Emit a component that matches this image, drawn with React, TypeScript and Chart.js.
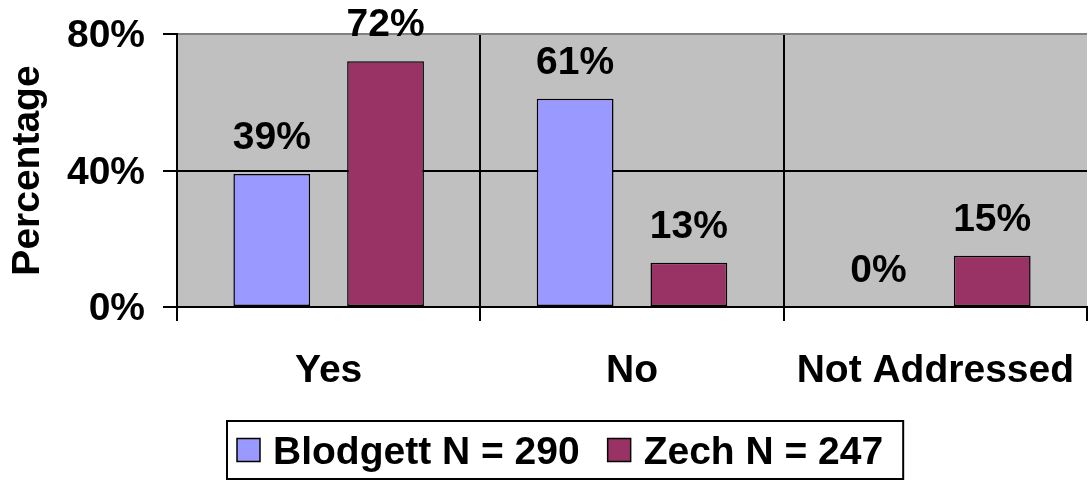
import React, { useEffect, useRef } from "react";
import { Chart, registerables } from "chart.js";

Chart.register(...registerables);

const categories = ["Yes", "No", "Not Addressed"];
const blodgettValues = [39, 61, 0];
const zechValues = [72, 13, 15];
const seriesNames = ["Blodgett N = 290", "Zech N = 247"];
const seriesColors = ["#9999FF", "#993366"];
const yTickValues = [0, 40, 80];
const yAxisTitle = "Percentage";

const FAMILY = "'Liberation Sans', Arial, sans-serif";
const BIG = `bold 39px ${FAMILY}`;
const TICK = `bold 39px ${FAMILY}`;

const W = 1088;
const H = 483;

const customPlugin = {
  id: "customDecor",
  beforeDraw(chart: any) {
    const { ctx, chartArea: a } = chart;
    ctx.save();
    ctx.fillStyle = "#C0C0C0";
    ctx.fillRect(a.left, a.top, a.right - a.left, a.bottom - a.top);
    ctx.restore();
  },
  afterDatasetsDraw(chart: any) {
    const { ctx } = chart;
    ctx.save();
    ctx.font = BIG;
    ctx.fillStyle = "#000";
    ctx.textAlign = "center";
    ctx.textBaseline = "alphabetic";
    chart.data.datasets.forEach((ds: any, di: number) => {
      const meta = chart.getDatasetMeta(di);
      meta.data.forEach((el: any, i: number) => {
        ctx.fillText(`${ds.data[i]}%`, el.x, el.y - 25);
      });
    });
    ctx.restore();
  },
  afterDraw(chart: any) {
    const { ctx, chartArea: a } = chart;
    const ys = chart.scales.y;
    const xs = chart.scales.x;
    ctx.save();
    ctx.fillStyle = "#000";
    ctx.textBaseline = "alphabetic";
    // y tick labels
    ctx.font = TICK;
    ctx.textAlign = "right";
    yTickValues.forEach((v) => {
      ctx.fillText(`${v}%`, a.left - 32, ys.getPixelForValue(v) + 13);
    });
    // x category labels
    ctx.font = BIG;
    ctx.textAlign = "center";
    categories.forEach((c, i) => {
      ctx.fillText(c, xs.getPixelForValue(i), a.bottom + 75);
    });
    // y axis title
    ctx.save();
    ctx.translate(39, (a.top + a.bottom) / 2);
    ctx.rotate(-Math.PI / 2);
    ctx.font = `bold 39px ${FAMILY}`;
    ctx.textAlign = "center";
    ctx.fillText(yAxisTitle, 0, 0);
    ctx.restore();
    // legend
    ctx.font = BIG;
    ctx.textAlign = "left";
    const marker = 23;
    const padL = 10;
    const padR = 20;
    const gapMT = 13;
    const itemGap = 28;
    const widths = seriesNames.map((s) => ctx.measureText(s).width);
    let total = padL + padR;
    widths.forEach((w, i) => {
      total += marker + gapMT + w + (i < widths.length - 1 ? itemGap : 0);
    });
    const cx = 565;
    const boxLeft = Math.round(cx - total / 2);
    const boxTop = 421;
    const boxH = 58;
    ctx.lineWidth = 2;
    ctx.strokeStyle = "#000";
    ctx.strokeRect(boxLeft, boxTop, total, boxH);
    let x = boxLeft + padL;
    const mid = boxTop + boxH / 2;
    seriesNames.forEach((s, i) => {
      ctx.fillStyle = seriesColors[i];
      ctx.fillRect(x, mid - marker / 2, marker, marker);
      ctx.lineWidth = 1.5;
      ctx.strokeRect(x, mid - marker / 2, marker, marker);
      x += marker + gapMT;
      ctx.fillStyle = "#000";
      ctx.fillText(s, x, mid + 14);
      x += widths[i] + itemGap;
    });
    ctx.restore();
  },
};

export default function App() {
  const ref = useRef<HTMLCanvasElement | null>(null);

  useEffect(() => {
    if (!ref.current) return;
    const chart = new Chart(ref.current, {
      type: "bar",
      data: {
        labels: categories,
        datasets: [
          {
            label: seriesNames[0],
            data: blodgettValues,
            backgroundColor: seriesColors[0],
            borderColor: "#000",
            borderWidth: 1.5,
            borderSkipped: false,
          },
          {
            label: seriesNames[1],
            data: zechValues,
            backgroundColor: seriesColors[1],
            borderColor: "#000",
            borderWidth: 1.5,
            borderSkipped: false,
          },
        ],
      },
      options: {
        responsive: false,
        animation: false,
        devicePixelRatio: 1,
        layout: { padding: { top: 34, right: 1, left: 0, bottom: 0 } },
        datasets: {
          bar: { categoryPercentage: 0.75, barPercentage: 0.675 },
        },
        plugins: {
          legend: { display: false },
          tooltip: { enabled: false },
        },
        scales: {
          x: {
            offset: true,
            ticks: { display: false },
            grid: {
              offset: true,
              drawTicks: true,
              tickLength: 14,
              lineWidth: 2,
              tickWidth: 2,
              color: (c: any) => (c.type === "scale" ? "rgba(0,0,0,0)" : "#000"),
              tickColor: "#000",
            },
            border: { display: true, color: "#000", width: 2 },
            afterFit: (s: any) => {
              s.height = 176;
            },
          },
          y: {
            min: 0,
            max: 80,
            ticks: { display: false, stepSize: 40 },
            grid: {
              drawTicks: true,
              tickLength: 14,
              lineWidth: 2,
              tickWidth: 2,
              color: (c: any) => (c.tick && c.tick.value === 80 ? "#808080" : "#000"),
              tickColor: "#000",
            },
            border: { display: true, color: "#000", width: 2 },
            afterFit: (s: any) => {
              s.width = 177;
            },
          },
        },
      },
      plugins: [customPlugin],
    });
    return () => chart.destroy();
  }, []);

  return (
    <div
      style={{
        position: "fixed",
        left: 0,
        top: 0,
        width: W,
        height: H,
        background: "#fff",
      }}
    >
      <canvas ref={ref} width={W} height={H} style={{ width: W, height: H, display: "block" }} />
    </div>
  );
}
